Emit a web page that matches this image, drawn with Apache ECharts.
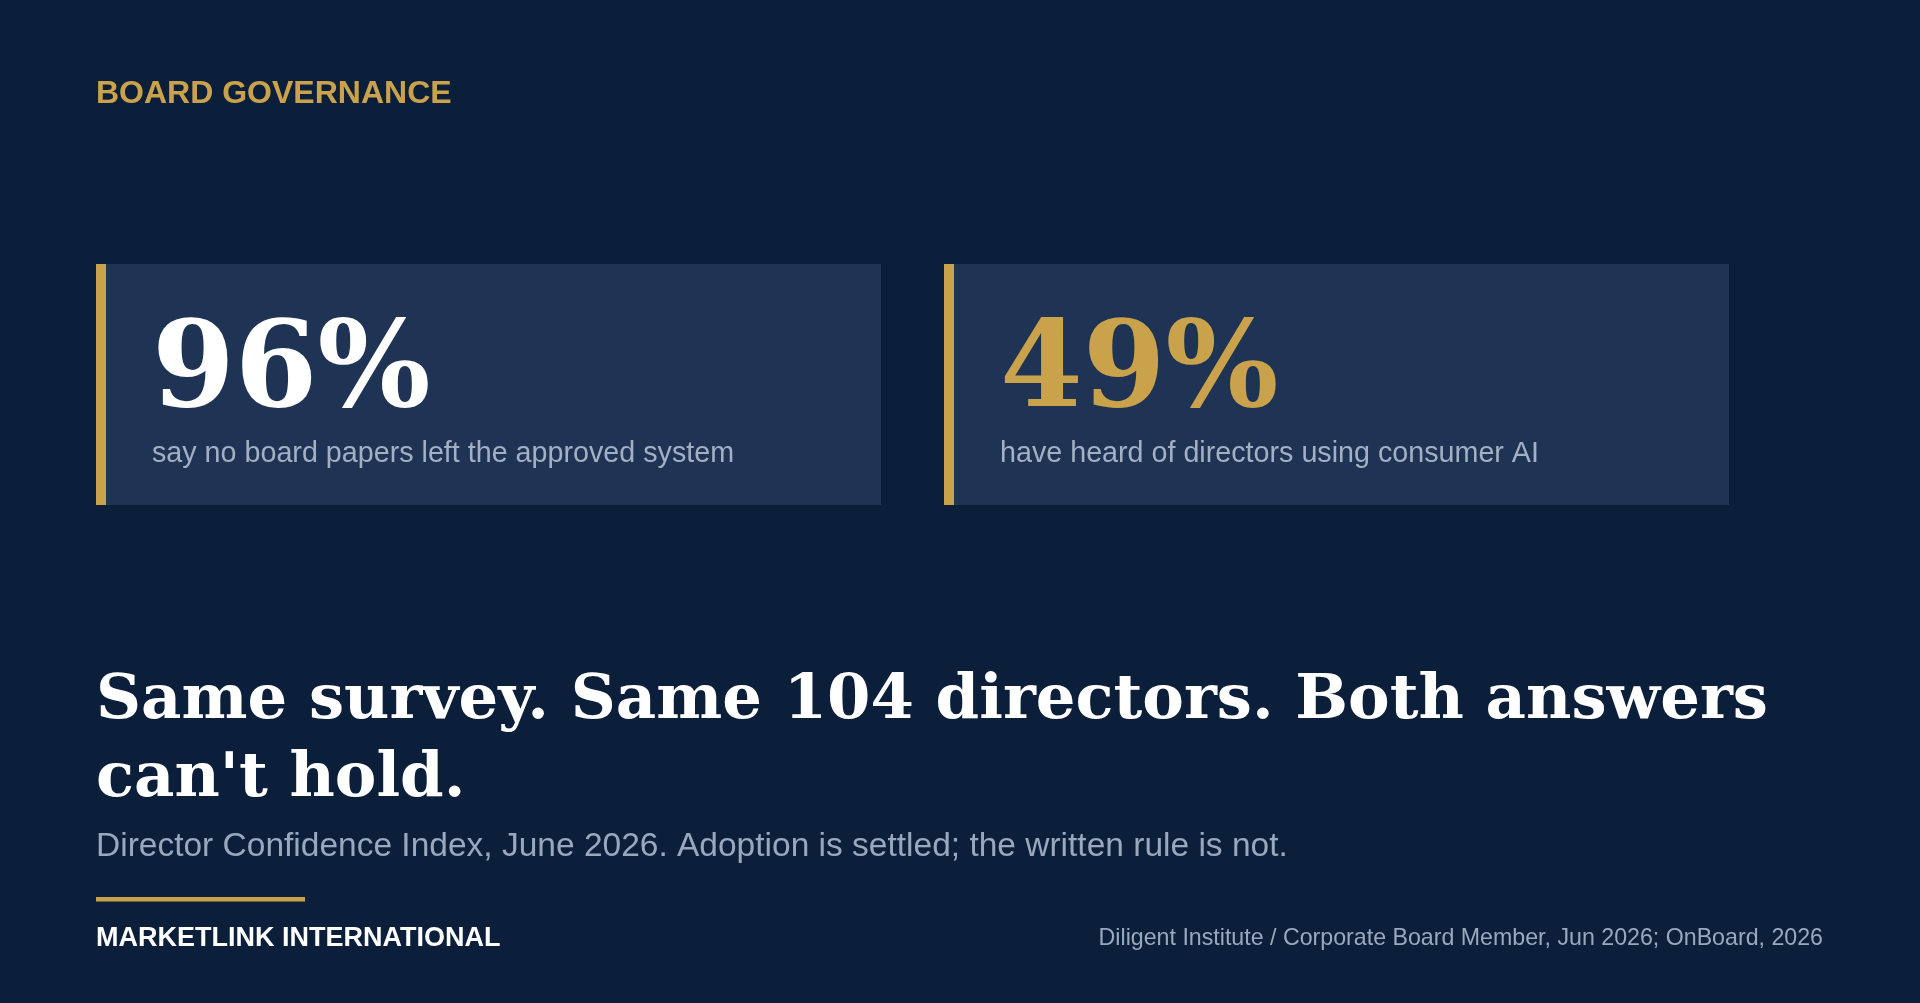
<!DOCTYPE html>
<html>
<head>
    <meta charset="utf-8">
    <title>Board Governance</title>
    <style>
        html, body {margin: 0; padding: 0; background: #0b1f3a;}
        #main {width: 1920px; height: 1003px;}
    </style>
</head>
<body>
<div id="main"></div>
<script src="https://cdn.jsdelivr.net/npm/echarts@6/dist/echarts.min.js"></script>
<script>
    // data
    var statValues = [96, 49];
    var statLabels = ['say no board papers left the approved system', 'have heard of directors using consumer AI'];
    var kicker = 'BOARD GOVERNANCE';
    var headline = 'Same survey. Same 104 directors. Both answers\ncan\'t hold.';
    var subline = 'Director Confidence Index, June 2026. Adoption is settled; the written rule is not.';
    var brand = 'MARKETLINK INTERNATIONAL';
    var source = 'Diligent Institute / Corporate Board Member, Jun 2026; OnBoard, 2026';

    var gold = '#c9a24b';
    var sans = '"Liberation Sans", Arial, sans-serif';
    var serif = '"DejaVu Serif", Georgia, serif';

    var myChart = echarts.init(document.getElementById('main'), null, {renderer: 'canvas'});

    var elements = [];
    elements.push({
        type: 'text', x: 96, y: 94,
        style: {text: kicker, fill: gold, font: 'bold 32px ' + sans, verticalAlign: 'middle'}
    });

    // stat cards
    var cardX = [96, 944];
    var numColors = ['#ffffff', gold];
    statValues.forEach(function (v, i) {
        var x0 = cardX[i];
        elements.push({
            type: 'rect', shape: {x: x0, y: 264, width: 785, height: 241},
            style: {fill: '#1f3455'}
        });
        elements.push({
            type: 'rect', shape: {x: x0, y: 264, width: 10, height: 241},
            style: {fill: gold}
        });
        elements.push({
            type: 'text', x: x0 + 56, y: 375,
            style: {text: v + '%', fill: numColors[i], font: 'bold 119px ' + serif, verticalAlign: 'middle'}
        });
        elements.push({
            type: 'text', x: x0 + 56, y: 454,
            style: {text: statLabels[i], fill: '#a3b0c4', font: '28.7px ' + sans, verticalAlign: 'middle'}
        });
    });

    elements.push({
        type: 'text', x: 96, y: 741,
        style: {text: headline, fill: '#ffffff', font: 'bold 62.4px ' + serif, lineHeight: 78, verticalAlign: 'middle'}
    });
    elements.push({
        type: 'text', x: 96, y: 846.5,
        style: {text: subline, fill: '#9aa8be', font: '33.5px ' + sans, verticalAlign: 'middle'}
    });
    elements.push({
        type: 'rect', shape: {x: 96, y: 897, width: 209, height: 4.5},
        style: {fill: gold}
    });
    elements.push({
        type: 'text', x: 96, y: 938.5,
        style: {text: brand, fill: '#ffffff', font: 'bold 27px ' + sans, verticalAlign: 'middle'}
    });
    elements.push({
        type: 'text', x: 1823, y: 938.5,
        style: {text: source, fill: '#9aa8be', font: '23.2px ' + sans, align: 'right', verticalAlign: 'middle'}
    });

    var option = {
        backgroundColor: '#0b1f3a',
        animation: false,
        graphic: {elements: elements}
    };
    myChart.setOption(option);
</script>
</body>
</html>
